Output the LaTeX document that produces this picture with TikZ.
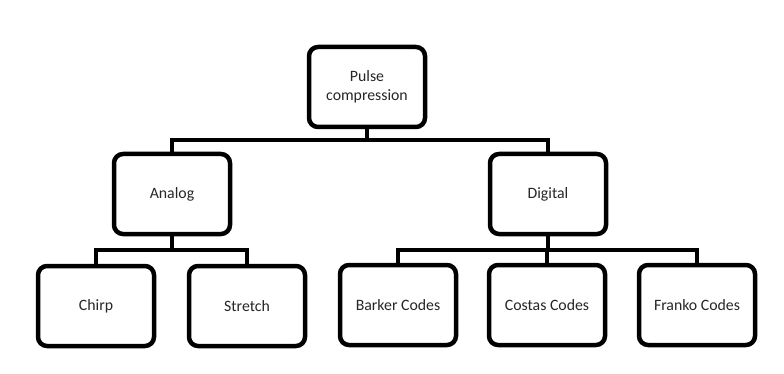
\documentclass[tikz,border=0pt]{standalone}
\usepackage{fontspec}
\setmainfont{Carlito}
\begin{document}
\begin{tikzpicture}[x=1pt,y=-1pt,
  box/.style={draw=black,line width=4.5pt,rounded corners=9pt,fill=white,
    minimum width=116pt,minimum height=80pt,inner sep=0pt,align=center,
    font=\fontsize{15.8}{19}\selectfont,text=black!85},
  conn/.style={draw=black,line width=4pt}]
\useasboundingbox (0,0) rectangle (784,374);
\node[box] (pc) at (367,87) {Pulse\\compression};
\node[box] (an) at (172,194) {Analog};
\node[box] (di) at (548,194) {Digital};
\node[box] (ch) at (96,306) {Chirp};
\node[box] (st) at (247,306) {Stretch};
\node[box] (ba) at (398,305) {Barker Codes};
\node[box] (co) at (547,305) {Costas Codes};
\node[box] (fr) at (697,305) {Franko Codes};
\coordinate (j1) at (367,140);
\coordinate (j2) at (172,250);
\coordinate (j3) at (548,250);
\draw[conn] (pc.south) -- (j1);
\draw[conn] (an.north) -- (an.north |- j1) -- (di.north |- j1) -- (di.north);
\draw[conn] (an.south) -- (j2);
\draw[conn] (ch.north) -- (ch.north |- j2) -- (st.north |- j2) -- (st.north);
\draw[conn] (di.south) -- (j3);
\draw[conn] (ba.north) -- (ba.north |- j3) -- (fr.north |- j3) -- (fr.north);
\draw[conn] (co.north) -- (co.north |- j3);
\end{tikzpicture}
\end{document}
